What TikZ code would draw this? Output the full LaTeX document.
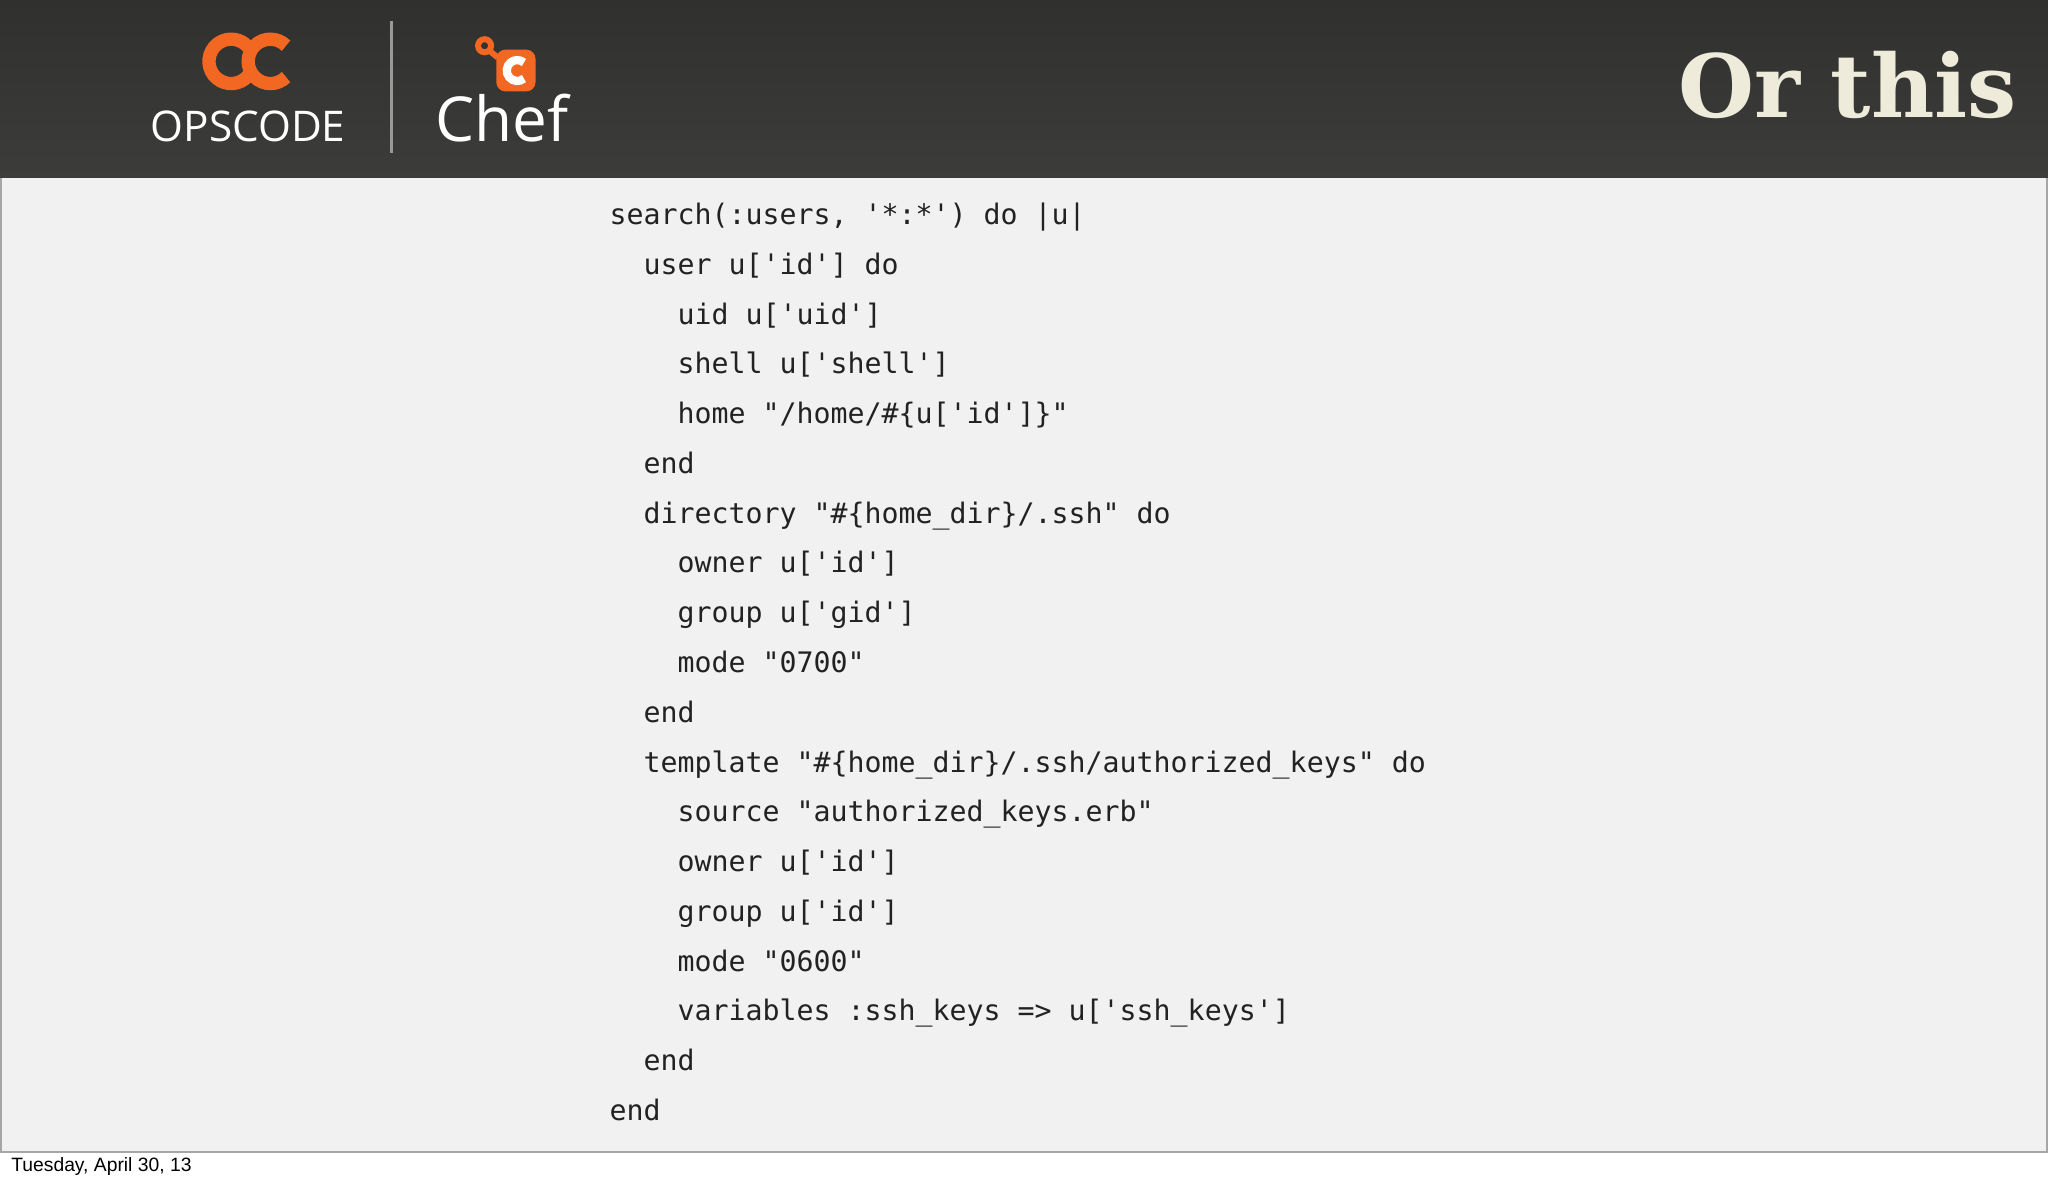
\documentclass[tikz,border=0pt]{standalone}
\usepackage{fontspec}
\setmonofont{DejaVu Sans Mono}
\setsansfont{Open Sans}
\newfontfamily\titlefont{DejaVu Serif}
\definecolor{hdr}{HTML}{3C3C3A}
\definecolor{bodybg}{HTML}{F2F1F1}
\definecolor{orng}{HTML}{F26722}
\definecolor{cream}{HTML}{EEEBDB}
\definecolor{codec}{HTML}{222222}
\begin{document}
\begin{tikzpicture}[x=0.01cm,y=-0.01cm,
  code/.style={anchor=base west,inner sep=0,text=codec,font=\fontsize{6.15}{7}\ttfamily},
  arcst/.style={line width=2.9pt,draw=orng,line cap=butt}]
\useasboundingbox (0,0) rectangle (1568,906);
\fill[white] (0,0) rectangle (1568,906);
\fill[bodybg] (0,136) rectangle (1568,882);
\draw[gray!70,line width=0.4pt] (0.5,136) -- (0.5,882) -- (1567.5,882) -- (1567.5,136);
\shade[top color=hdr!80!black,bottom color=hdr] (0,0) rectangle (1568,136);
% OPSCODE logo
\draw[arcst] (177,47) ++(40:17) arc (40:320:17);
\draw[arcst] (207,47) ++(45:17) arc (45:315:17);
\node[inner sep=0,anchor=base,text=white,font=\fontsize{9.2}{9}\sffamily] (ops) at (190,108) {OPSCODE};
\draw[gray!80,line width=0.6pt] (300,16) -- (300,117);
% Chef logo
\fill[orng,rounded corners=2] (380,38) rectangle (410,70);
\draw[orng,line width=1.3pt] (371,35) circle (5);
\draw[orng,line width=1.3pt] (375,39) -- (381,44);
\draw[white,line width=1.8pt] (396,54) ++(50:8) arc (50:310:8);
\node[inner sep=0,anchor=base,text=white,font=\fontsize{13.5}{14}\sffamily] (chef) at (384,108) {Chef};
\node[inner sep=0,anchor=base east,text=cream,font=\fontsize{19}{24}\titlefont\bfseries] (title) at (1545,90) {Or this};
% code
\foreach \t [count=\i from 0] in {
 {search(:users, '*:*') do |u|},
 {\ \ user u['id'] do},
 {\ \ \ \ uid u['uid']},
 {\ \ \ \ shell u['shell']},
 {\ \ \ \ home "/home/\#\{u['id']\}"},
 {\ \ end},
 {\ \ directory "\#\{home\_dir\}/.ssh" do},
 {\ \ \ \ owner u['id']},
 {\ \ \ \ group u['gid']},
 {\ \ \ \ mode "0700"},
 {\ \ end},
 {\ \ template "\#\{home\_dir\}/.ssh/authorized\_keys" do},
 {\ \ \ \ source "authorized\_keys.erb"},
 {\ \ \ \ owner u['id']},
 {\ \ \ \ group u['id']},
 {\ \ \ \ mode "0600"},
 {\ \ \ \ variables :ssh\_keys => u['ssh\_keys']},
 {\ \ end},
 {end}}
 \node[code] (l\i) at (466,{172+38.1*\i}) {\t};
\node[inner sep=0,anchor=west,font=\fontsize{4.2}{5}\fontspec{Liberation Sans}] (foot) at (8,893) {Tuesday, April 30, 13};
\end{tikzpicture}
\end{document}
